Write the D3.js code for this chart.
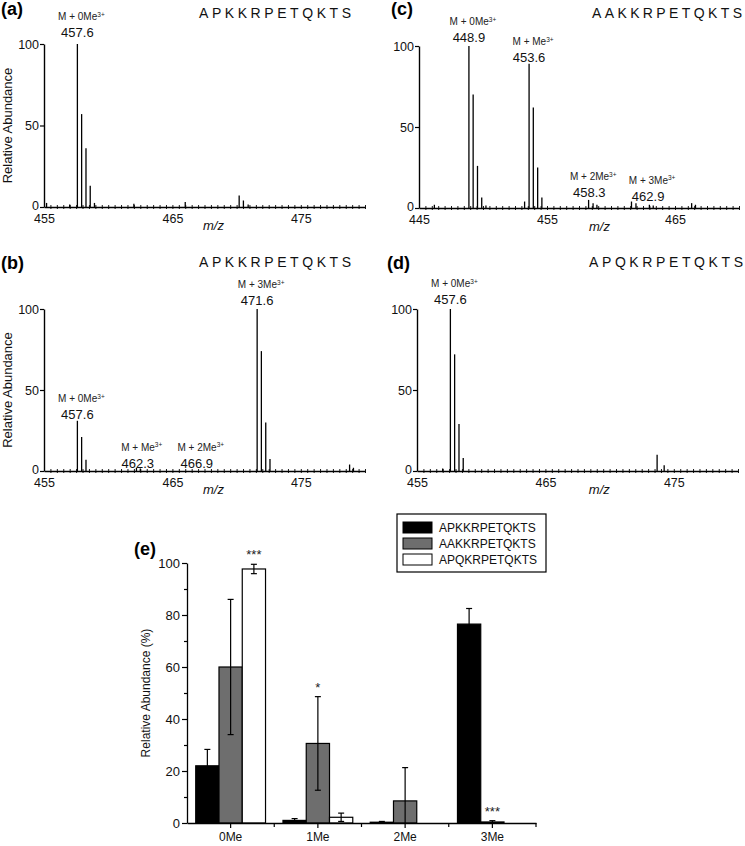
<!DOCTYPE html>
<html><head><meta charset="utf-8">
<script src="https://cdn.jsdelivr.net/npm/d3@7"></script>
<style>
body{margin:0;background:#fff}
svg{font-family:"Liberation Sans",Arial,sans-serif;display:block}
</style>
</head><body>
<svg id="c" width="745" height="846"></svg>
<script>
// ---------------- DATA ----------------
const seqA = "APKKRPETQKTS", seqB = "APKKRPETQKTS", seqC = "AAKKRPETQKTS", seqD = "APQKRPETQKTS";

const mzA  = [455.2, 457.0, 457.6, 457.93, 458.27, 458.6, 458.93, 462.0, 466.0, 470.2, 470.53, 470.9];
const intA = [2.5, 1.5, 100, 57, 36, 13, 2.5, 2, 3, 7, 4, 1.5];

const mzB  = [457.6, 457.93, 458.27, 462.2, 462.5, 471.6, 471.93, 472.27, 472.6, 478.8, 479.1];
const intB = [31, 21, 7, 2, 1.5, 100, 74, 30, 7.4, 4, 2];

const mzC  = [446.2, 448.9, 449.23, 449.57, 449.9, 450.23, 453.25, 453.6, 453.93, 454.27, 454.6, 458.25, 458.6, 458.9, 461.6, 461.95, 463.0, 463.3, 466.3, 466.6];
const intC = [2, 100, 70, 26, 6.5, 1.5, 4, 89, 62, 25, 6.5, 5, 3, 2, 4, 3, 2, 1.5, 3, 2];

const mzD  = [457.0, 457.6, 457.93, 458.27, 458.6, 473.7, 474.25];
const intD = [1.5, 100, 72, 29, 8, 10, 3.5];

const annNamesA = ["M + 0Me"], annValsA = ["457.6"], annLevA = [107];
const annNamesB = ["M + 0Me", "M + Me", "M + 2Me", "M + 3Me"], annValsB = ["457.6", "462.3", "466.9", "471.6"], annLevB = [34.6, 4.9, 4.9, 105];
const annNamesC = ["M + 0Me", "M + Me", "M + 2Me", "M + 3Me"], annValsC = ["448.9", "453.6", "458.3", "462.9"], annLevC = [105, 93, 9.3, 7.4];
const annNamesD = ["M + 0Me"], annValsD = ["457.6"], annLevD = [105.6];

const ticksAB = [455, 465, 475], ticksC = [445, 455, 465], ticksD = [455, 465, 475];
const yTicksSpec = [0, 50, 100];

// panel (e)
const categories = ["0Me", "1Me", "2Me", "3Me"];
const seriesNames = ["APKKRPETQKTS", "AAKKRPETQKTS", "APQKRPETQKTS"];
const valAPKK = [22, 1.0, 0.3, 76.5], errAPKK = [6.3, 0.7, 0.3, 6];
const valAAKK = [60, 30.6, 8.5, 0.4], errAAKK = [26, 18, 12.8, 0.5];
const valAPQK = [97.7, 2.2, 0, 0],    errAPQK = [1.8, 1.6, 0, 0];
const starLabels = ["***", "*", "***"];
const starCat = ["0Me", "1Me", "3Me"];
const starSeries = [2, 1, 1];
const yTicksE = [0, 20, 40, 60, 80, 100];

// ---------------- DRAW ----------------
const svg = d3.select("#c");

function spectrum(cfg) {
  const g = svg.append("g");
  const x = d3.scaleLinear().domain(cfg.domain).range([cfg.x0, cfg.x1]);
  const y = d3.scaleLinear().domain([0, 100]).range([cfg.yBot, cfg.yTop]);

  // baseline texture (minor ticks straddling the axis)
  g.append("g").attr("transform", `translate(0,${cfg.yBot + 2})`)
    .call(d3.axisBottom(x).tickValues(d3.range(cfg.domain[0] + 0.5, cfg.domain[1] + 0.01, 0.5)).tickSize(-4).tickFormat(""))
    .call(a => a.select(".domain").remove())
    .call(a => a.selectAll("line").attr("stroke", "#000").attr("stroke-width", 0.9));

  // x axis
  const xa = g.append("g").attr("transform", `translate(0,${cfg.yBot})`)
    .call(d3.axisBottom(x).tickValues(cfg.ticks).tickSize(0).tickSizeOuter(0).tickPadding(7).tickFormat(d3.format("d")));
  xa.select(".domain").attr("stroke", "#000").attr("stroke-width", 1.4);
  xa.selectAll("text").attr("font-size", 12.5).attr("fill", "#111").attr("font-family", '"Liberation Sans",Arial,sans-serif');

  // y axis
  const ya = g.append("g").attr("transform", `translate(${cfg.x0},0)`)
    .call(d3.axisLeft(y).tickValues(yTicksSpec).tickSize(4).tickSizeOuter(0).tickPadding(1));
  ya.select(".domain").attr("stroke", "#000").attr("stroke-width", 1.4);
  ya.selectAll("line").attr("stroke-width", 1.2);
  ya.selectAll("text").attr("font-size", 12.5).attr("fill", "#111").attr("font-family", '"Liberation Sans",Arial,sans-serif');
  ya.selectAll(".tick").filter(d => d === 0).select("text").attr("dy", "0.2em");

  // peaks
  g.selectAll(".pk").data(cfg.mz.map((m, i) => ({ m, v: cfg.int[i] }))).join("line")
    .attr("x1", d => x(d.m)).attr("x2", d => x(d.m))
    .attr("y1", y(0)).attr("y2", d => y(d.v))
    .attr("stroke", "#000").attr("stroke-width", 1.3);

  // annotations
  cfg.annVals.forEach((v, i) => {
    const cx = x(parseFloat(v)), cy = y(cfg.annLev[i]);
    g.append("text").attr("x", cx).attr("y", cy).attr("dy", "0.35em")
      .attr("text-anchor", "middle").attr("font-size", 13).attr("fill", "#111").text(v);
    const t = g.append("text").attr("x", cx + 4).attr("y", cy - 16).attr("dy", "0.35em")
      .attr("text-anchor", "middle").attr("font-size", 10).attr("fill", "#222");
    t.append("tspan").text(cfg.annNames[i]);
    t.append("tspan").attr("font-size", 6.5).attr("dy", "-0.5em").text("3+");
  });

  // m/z label
  g.append("text").attr("x", x(cfg.mzLabelAt)).attr("y", cfg.yBot + 23)
    .attr("text-anchor", "middle").attr("font-size", 13).attr("font-style", "italic").attr("fill", "#111").text("m/z");

  // panel letter
  g.append("text").attr("x", cfg.titleX).attr("y", cfg.titleY).attr("font-size", 18).attr("font-weight", "bold")
    .attr("fill", "#000").text(cfg.title);

  // sequence
  g.append("text").attr("x", cfg.seqX).attr("y", cfg.seqY).attr("font-size", 14).attr("fill", "#111")
    .attr("textLength", cfg.seqW).attr("lengthAdjust", "spacing").text(cfg.seq);

  // y label
  if (cfg.ylabel) {
    g.append("text").attr("transform", `translate(${cfg.x0 - 32},${(cfg.yTop + cfg.yBot) / 2}) rotate(-90)`)
      .attr("text-anchor", "middle").attr("font-size", 13).attr("fill", "#111").text("Relative Abundance");
  }
}

spectrum({ domain: [455, 480], x0: 44, x1: 365, yTop: 44, yBot: 207, ticks: ticksAB, mz: mzA, int: intA,
  annNames: annNamesA, annVals: annValsA, annLev: annLevA, mzLabelAt: 468.2,
  title: "(a)", titleX: 1, titleY: 15, seq: seqA, seqX: 199, seqY: 18, seqW: 152, ylabel: true });
spectrum({ domain: [455, 480], x0: 44, x1: 365, yTop: 309, yBot: 471, ticks: ticksAB, mz: mzB, int: intB,
  annNames: annNamesB, annVals: annValsB, annLev: annLevB, mzLabelAt: 468.2,
  title: "(b)", titleX: 1, titleY: 269, seq: seqB, seqX: 199, seqY: 267, seqW: 152, ylabel: true });
spectrum({ domain: [445, 470], x0: 419, x1: 739, yTop: 46, yBot: 208, ticks: ticksC, mz: mzC, int: intC,
  annNames: annNamesC, annVals: annValsC, annLev: annLevC, mzLabelAt: 459.1,
  title: "(c)", titleX: 391, titleY: 15, seq: seqC, seqX: 592, seqY: 18, seqW: 150, ylabel: false });
spectrum({ domain: [455, 480], x0: 417, x1: 738, yTop: 309, yBot: 471, ticks: ticksD, mz: mzD, int: intD,
  annNames: annNamesD, annVals: annValsD, annLev: annLevD, mzLabelAt: 469.2,
  title: "(d)", titleX: 387, titleY: 269, seq: seqD, seqX: 589, seqY: 267, seqW: 154, ylabel: false });

// ---------------- PANEL E ----------------
(function () {
  const g = svg.append("g");
  const x0 = d3.scaleBand().domain(categories).range([187, 536]).padding(0);
  const x1 = d3.scaleBand().domain([0, 1, 2]).range([0, x0.bandwidth() * 0.8]).padding(0);
  const off = x0.bandwidth() * 0.1;
  const y = d3.scaleLinear().domain([0, 100]).range([823, 563]);
  const vals = [valAPKK, valAAKK, valAPQK], errs = [errAPKK, errAAKK, errAPQK];
  const fills = ["#000000", "#6e6e6e", "#ffffff"];

  // bars
  const data = [];
  categories.forEach((c, ci) => vals.forEach((s, si) => data.push({ c, si, v: s[ci], e: errs[si][ci] })));
  g.selectAll(".bar").data(data.filter(d => d.v > 0)).join("rect")
    .attr("x", d => x0(d.c) + off + x1(d.si)).attr("width", x1.bandwidth())
    .attr("y", d => y(d.v)).attr("height", d => y(0) - y(d.v))
    .attr("fill", d => fills[d.si]).attr("stroke", "#000").attr("stroke-width", 1.2);

  // error bars
  data.filter(d => d.e > 0).forEach(d => {
    const cx = x0(d.c) + off + x1(d.si) + x1.bandwidth() / 2;
    const lo = Math.max(0, d.v - d.e), hi = d.v + d.e;
    g.append("line").attr("x1", cx).attr("x2", cx).attr("y1", y(lo)).attr("y2", y(hi)).attr("stroke", "#000").attr("stroke-width", 1.2);
    g.append("line").attr("x1", cx - 3).attr("x2", cx + 3).attr("y1", y(hi)).attr("y2", y(hi)).attr("stroke", "#000").attr("stroke-width", 1.2);
    if (d.v - d.e > 0) g.append("line").attr("x1", cx - 3).attr("x2", cx + 3).attr("y1", y(lo)).attr("y2", y(lo)).attr("stroke", "#000").attr("stroke-width", 1.2);
  });

  // stars
  starLabels.forEach((s, i) => {
    const ci = categories.indexOf(starCat[i]), si = starSeries[i];
    const cx = x0(starCat[i]) + off + x1(si) + x1.bandwidth() / 2;
    const top = vals[si][ci] + errs[si][ci];
    g.append("text").attr("x", cx).attr("y", y(top) - 5).attr("text-anchor", "middle")
      .attr("font-size", 13).attr("fill", "#222").text(s);
  });

  // x axis
  const xa = g.append("g").attr("transform", "translate(0,823)")
    .call(d3.axisBottom(x0).tickSize(5).tickSizeOuter(0).tickPadding(4));
  xa.select(".domain").attr("stroke-width", 1.3);
  xa.selectAll("line").attr("stroke-width", 1.2);
  xa.selectAll("text").attr("font-size", 12).attr("fill", "#111").attr("font-family", '"Liberation Sans",Arial,sans-serif');
  // group boundary ticks
  g.append("g").attr("transform", "translate(0,823)")
    .selectAll("line").data(categories.slice(1).map(c => x0(c)).concat([536])).join("line")
    .attr("x1", d => d).attr("x2", d => d).attr("y1", 0).attr("y2", 4).attr("stroke", "#000").attr("stroke-width", 1.2);

  // y axis
  const ya = g.append("g").attr("transform", "translate(187,0)")
    .call(d3.axisLeft(y).tickValues(yTicksE).tickSize(5).tickSizeOuter(0).tickPadding(2));
  ya.select(".domain").attr("stroke-width", 1.3);
  ya.selectAll("line").attr("stroke-width", 1.2);
  ya.selectAll("text").attr("font-size", 13).attr("fill", "#111").attr("font-family", '"Liberation Sans",Arial,sans-serif');
  g.append("g").attr("transform", "translate(187,0)")
    .call(d3.axisLeft(y).tickValues([10, 30, 50, 70, 90]).tickSize(3).tickFormat(""))
    .call(a => a.select(".domain").remove())
    .call(a => a.selectAll("line").attr("stroke-width", 1.2));

  // y label
  g.append("text").attr("transform", "translate(150,693) rotate(-90)").attr("text-anchor", "middle")
    .attr("font-size", 12).attr("fill", "#111").text("Relative Abundance (%)");

  // panel letter
  g.append("text").attr("x", 134).attr("y", 555).attr("font-size", 18).attr("font-weight", "bold").attr("fill", "#000").text("(e)");

  // legend
  const lg = g.append("g");
  lg.append("rect").attr("x", 397).attr("y", 514).attr("width", 149).attr("height", 58)
    .attr("fill", "#fff").attr("stroke", "#000").attr("stroke-width", 1.2);
  seriesNames.forEach((n, i) => {
    const cy = 527.5 + i * 16;
    lg.append("rect").attr("x", 403).attr("y", cy - 5.5).attr("width", 29).attr("height", 11)
      .attr("fill", fills[i]).attr("stroke", "#000").attr("stroke-width", 1);
    lg.append("text").attr("x", 439).attr("y", cy).attr("dy", "0.35em").attr("font-size", 12).attr("fill", "#111").text(n);
  });
})();
</script>
</body></html>
